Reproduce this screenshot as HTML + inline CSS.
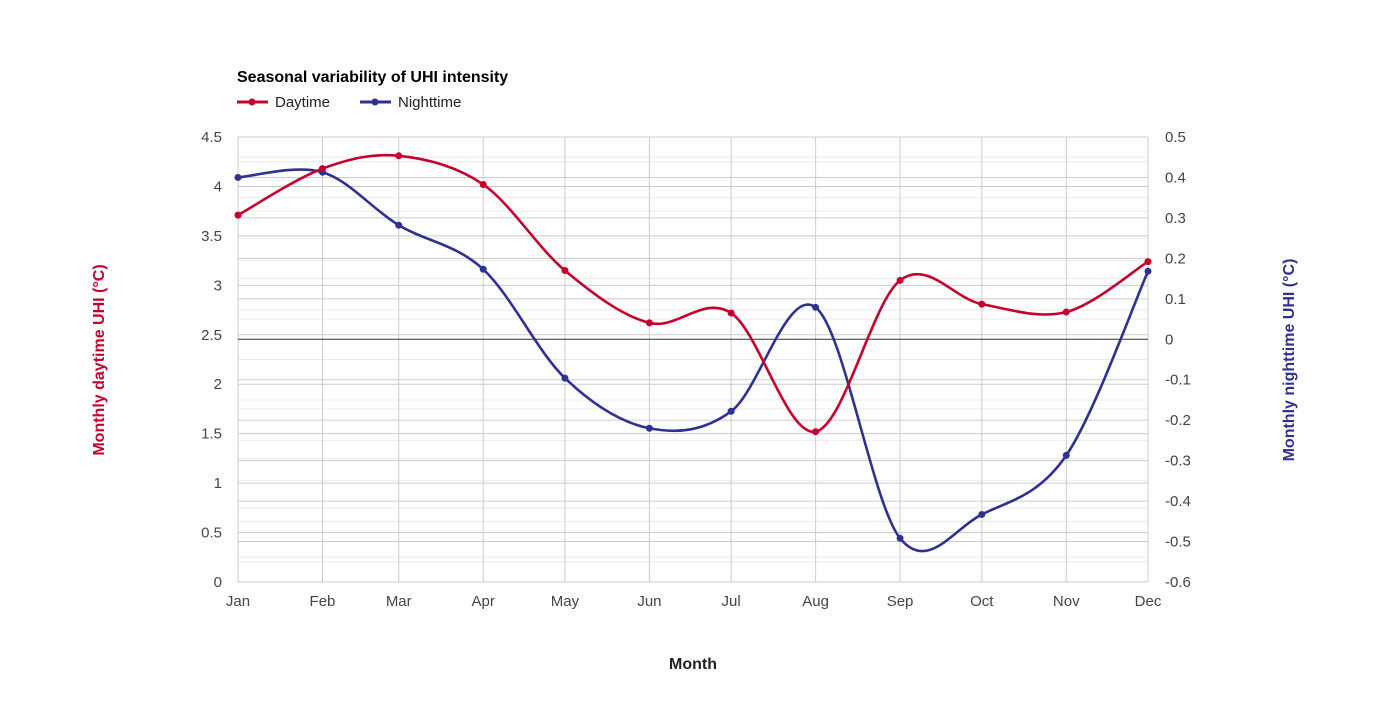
<!DOCTYPE html>
<html><head><meta charset="utf-8"><style>
body{margin:0;background:#fff;font-family:"Liberation Sans",Arial,sans-serif}
svg{display:block}
</style></head><body>
<svg id="chart" width="1385" height="720" xmlns="http://www.w3.org/2000/svg">
<text x="237" y="82" font-size="16" font-weight="bold" fill="#000">Seasonal variability of UHI intensity</text>
<g>
<line x1="237" y1="102" x2="268" y2="102" stroke="#c5002d" stroke-width="3"/><circle cx="252" cy="102" r="3.5" fill="#c5002d"/>
<text x="275" y="107" font-size="15" fill="#222">Daytime</text></g>
<g>
<line x1="360" y1="102" x2="391" y2="102" stroke="#2e3192" stroke-width="3"/><circle cx="375" cy="102" r="3.5" fill="#2e3192"/>
<text x="398" y="107" font-size="15" fill="#222">Nighttime</text></g>
<g id="grid"></g>
<g id="axes"></g>
<g id="series"></g>
<text transform="translate(104,360) rotate(-90)" text-anchor="middle" font-size="16" font-weight="bold" fill="#c5002d">Monthly daytime UHI (°C)</text>
<text transform="translate(1294,360) rotate(-90)" text-anchor="middle" font-size="16" font-weight="bold" fill="#2e3192">Monthly nighttime UHI (°C)</text>
<text x="693" y="669" text-anchor="middle" font-size="16" font-weight="bold" fill="#222">Month</text>
</svg>
<script>
const months=["Jan","Feb","Mar","Apr","May","Jun","Jul","Aug","Sep","Oct","Nov","Dec"];
const monthDays=[0,31,59,90,120,151,181,212,243,273,304,334];
const daytime=[3.71,4.18,4.31,4.02,3.15,2.62,2.72,1.52,3.05,2.81,2.73,3.24];
const nighttime=[0.40,0.413,0.282,0.173,-0.096,-0.22,-0.178,0.079,-0.492,-0.433,-0.287,0.168];
const leftTicks=["0","0.5","1","1.5","2","2.5","3","3.5","4","4.5"];
const rightTicks=["-0.6","-0.5","-0.4","-0.3","-0.2","-0.1","0","0.1","0.2","0.3","0.4","0.5"];
const NS="http://www.w3.org/2000/svg";
const X0=238,X1=1148,YT=137,YB=582;
const xs=d=>X0+(d/334)*(X1-X0);
const yL=v=>YB-(v/4.5)*(YB-YT);
const yR=v=>YB-((v+0.6)/1.1)*(YB-YT);
function mk(tag,attrs,parent){const e=document.createElementNS(NS,tag);for(const k in attrs)e.setAttribute(k,attrs[k]);parent.appendChild(e);return e;}
const grid=document.getElementById('grid'),axes=document.getElementById('axes'),series=document.getElementById('series');
for(let i=0;i<leftTicks.length-1;i++){const y=yL(+leftTicks[i]+0.25);const l=mk('line',{x1:X0,x2:X1,y1:y,y2:y,stroke:'#ebebeb'},grid);}
for(let i=0;i<rightTicks.length-1;i++){const y=yR(+rightTicks[i]+0.05);const l=mk('line',{x1:X0,x2:X1,y1:y,y2:y,stroke:'#ebebeb'},grid);}
leftTicks.forEach(t=>{const y=yL(+t);const l=mk('line',{x1:X0,x2:X1,y1:y,y2:y,stroke:'#cccccc'},grid);
const tx=mk('text',{x:X0-16,y:y+5,'text-anchor':'end','font-size':15,fill:'#444'},axes);tx.textContent=t;});
rightTicks.forEach(t=>{const y=yR(+t);if(+t!==0){const l=mk('line',{x1:X0,x2:X1,y1:y,y2:y,stroke:'#cccccc'},grid);}
const tx=mk('text',{x:X1+17,y:y+5,'font-size':15,fill:'#444'},axes);tx.textContent=t;});
months.forEach((m,i)=>{const x=xs(monthDays[i]);const l=mk('line',{x1:x,x2:x,y1:YT,y2:YB,stroke:'#cccccc'},grid);
const tx=mk('text',{x:x,y:YB+24,'text-anchor':'middle','font-size':15,fill:'#444'},axes);tx.textContent=m;});
const zl=mk('line',{x1:X0,x2:X1,y1:yR(0),y2:yR(0),stroke:'#333'},grid);


function curve(pts){let d=`M${pts[0][0]},${pts[0][1]}`;const s=0.5/3*2;
for(let i=0;i<pts.length-1;i++){const p0=pts[Math.max(0,i-1)],p1=pts[i],p2=pts[i+1],p3=pts[Math.min(pts.length-1,i+2)];
const c1=[p1[0]+(p2[0]-p0[0])*s/2,p1[1]+(p2[1]-p0[1])*s/2],c2=[p2[0]-(p3[0]-p1[0])*s/2,p2[1]-(p3[1]-p1[1])*s/2];
d+=` C${c1[0]},${c1[1]} ${c2[0]},${c2[1]} ${p2[0]},${p2[1]}`;}return d;}
function draw(vals,yf,color,name){const pts=vals.map((v,i)=>[xs(monthDays[i]),yf(v)]);
const p=mk('path',{d:curve(pts),fill:'none',stroke:color,'stroke-width':2.6},series);
pts.forEach(q=>{const c=mk('circle',{cx:q[0],cy:q[1],r:3.5,fill:color},series);});}
draw(nighttime,yR,'#2e3192','nighttime');
draw(daytime,yL,'#c5002d','daytime');
</script>
</body></html>
